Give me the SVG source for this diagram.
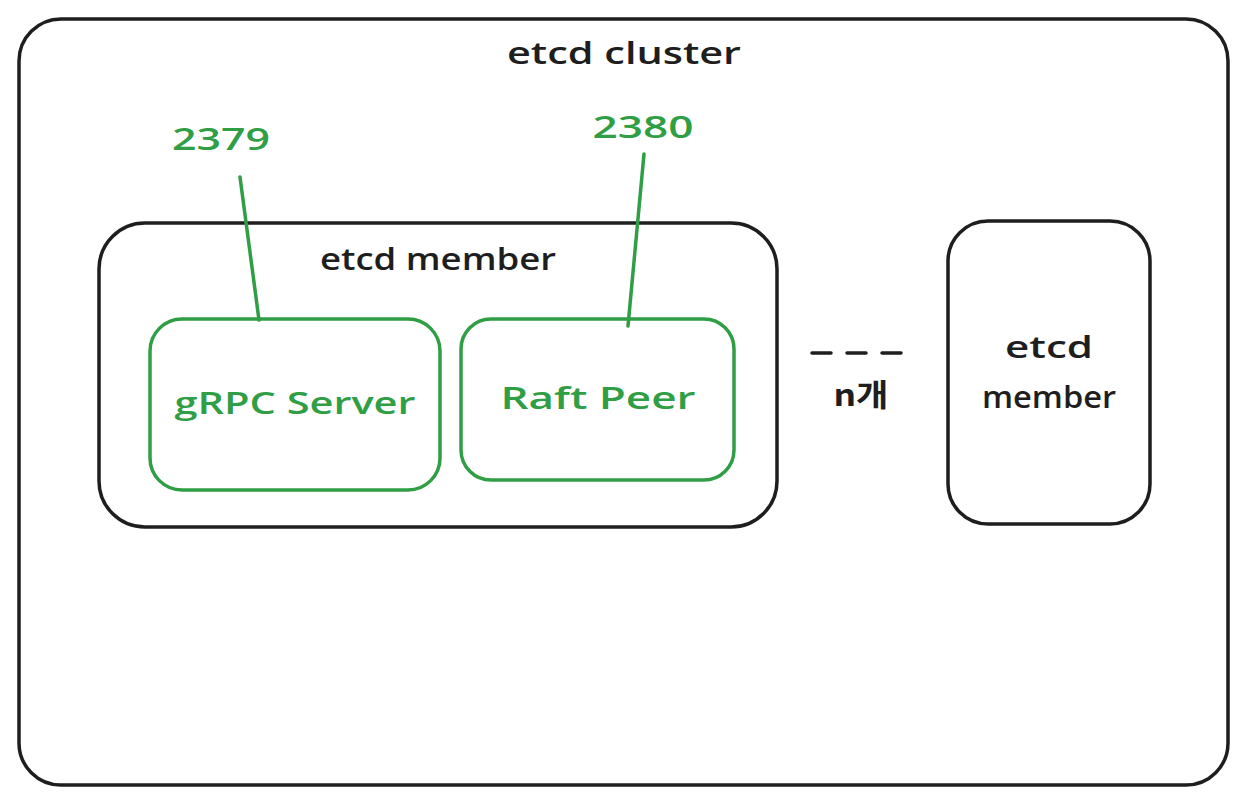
<svg xmlns="http://www.w3.org/2000/svg" width="1248" height="806" viewBox="0 0 1248 806">
<style>
.blk{fill:none;stroke:#1e1e1e;stroke-width:3.5;stroke-linecap:round;stroke-linejoin:round}
.grn{fill:none;stroke:#2f9e44;stroke-width:3.5;stroke-linecap:round;stroke-linejoin:round}
.t{font-family:"Open Sans","Liberation Sans",sans-serif;font-size:31px;font-weight:600;text-anchor:middle}
.tb{fill:#1e1e1e}
.tg{fill:#2f9e44}
</style>
<rect width="1248" height="806" fill="#ffffff"/>
<g id="cluster">
<rect class="blk" x="19" y="19" width="1209" height="766" rx="42"/>
<text class="t tb" x="624" y="64" textLength="234" lengthAdjust="spacingAndGlyphs">etcd cluster</text>
</g>
<g id="member1">
<rect class="blk" x="99" y="223" width="678" height="304" rx="46"/>
<text class="t tb" x="438" y="270" textLength="236" lengthAdjust="spacingAndGlyphs">etcd member</text>
</g>
<g id="grpc">
<rect class="grn" x="150" y="319" width="290" height="171" rx="32"/>
<text class="t tg" x="295" y="414" textLength="241" lengthAdjust="spacingAndGlyphs">gRPC Server</text>
</g>
<g id="raft">
<rect class="grn" x="461" y="319" width="273" height="161" rx="30"/>
<text class="t tg" x="598" y="409" textLength="195" lengthAdjust="spacingAndGlyphs">Raft Peer</text>
</g>
<g id="member2">
<rect class="blk" x="948" y="221" width="202" height="303" rx="40"/>
<text class="t tb" x="1049" y="358" textLength="88" lengthAdjust="spacingAndGlyphs">etcd</text>
<text class="t tb" x="1049" y="408" textLength="134" lengthAdjust="spacingAndGlyphs">member</text>
</g>
<g id="port2379">
<text class="t tg" x="221" y="150" textLength="98" lengthAdjust="spacingAndGlyphs">2379</text>
</g>
<g id="port2380">
<text class="t tg" x="643" y="138" textLength="101" lengthAdjust="spacingAndGlyphs">2380</text>
</g>
<g id="ncount">
<text class="t tb" x="861" y="406" style="font-family:'Noto Sans CJK KR','Noto Sans',sans-serif" textLength="55" lengthAdjust="spacingAndGlyphs">n개</text>
</g>
<g id="connectors">
<line class="grn" x1="240" y1="177" x2="259" y2="320"/>
<line class="grn" x1="644" y1="154" x2="628" y2="326"/>
<line class="blk" x1="812" y1="353" x2="903" y2="353" stroke-width="4" stroke-dasharray="19 16"/>
</g>
</svg>
